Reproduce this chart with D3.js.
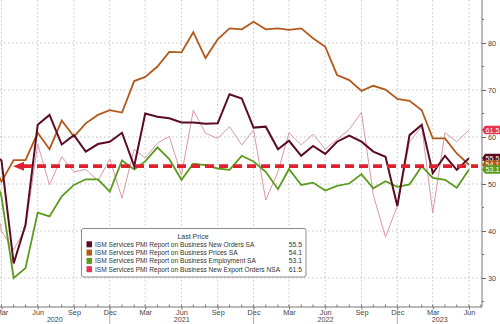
<!DOCTYPE html>
<html><head><meta charset="utf-8">
<script src="https://cdn.jsdelivr.net/npm/d3@7/dist/d3.min.js"></script>
<style>html,body{margin:0;padding:0;background:#fff;}svg{display:block;font-family:"Liberation Sans",Arial,sans-serif;}</style>
</head><body><svg id="c" width="500" height="324"></svg>
<script>
// months Feb 2020 .. Jun 2023
const startMonth = [2020, 1];
const newOrders = [57,55,33.1,41.3,62.6,64.7,58.4,60.4,56.9,58.5,59,60.9,53.8,65,64.3,64,63.1,63.1,62.8,62.9,69.1,68.2,62,62.2,57.4,59.2,56,58.1,56.4,59,60.3,59,56.9,55.8,45.3,60.4,62.6,52.3,56,53,55.5];
const prices = [55.5,50.5,55.1,55.1,60.9,57.4,63.5,60.1,62.9,64.7,65.7,65.2,71.9,72.8,75,78.1,78,82.3,76.8,80.8,83.1,82.9,84.5,82.9,83.1,82.8,83.1,81,79.2,73.2,72.1,69.8,70.9,70.1,68.1,67.7,65.7,59.7,59.7,56.5,54.1];
const employment = [55,47.3,30,32.1,43.9,43.1,47.4,49.8,51,51,48.4,55,53.1,54.8,57.8,55.3,50.9,54.3,54,53.3,53,56,54.8,52.6,48.9,53.2,49.8,50.3,48.6,49.6,50.1,52.1,49.1,50.6,49.4,49.9,53.8,51.3,50.9,49.2,53.1];
const exportOrders = [52,40,36,40.6,58.5,49.8,55.8,52.6,53.1,50.7,55.3,47,57.4,55.5,58.7,60.1,51.9,65.7,60.8,59.7,62.2,58.3,61.5,46.6,52.6,60.9,58.3,60.6,57.4,59.5,61.6,65.2,47.7,38.7,45.3,59,62.2,43.9,60.9,59,61.5];
const seriesNames = ["ISM Services PMI Report on Business New Orders SA","ISM Services PMI Report on Business Prices SA","ISM Services PMI Report on Business Employment SA","ISM Services PMI Report on Business New Export Orders NSA"];
const lastValues = ["55.5","54.1","53.1","61.5"];
const yTicks = [30,40,50,60,70,80];
const monthLabels = ["Mar","Jun","Sep","Dec"];
const years = [2020,2021,2022,2023];
const refLevel = 53.8;

const colors = ["#5a0c22","#b3591c","#5a9a1c","#e2344e"];
const lineColors = ["#5a0c22","#b3591c","#5a9a1c","#d99aa5"];
const widths = [2,1.8,1.8,1];

const svg = d3.select("#c");
const L=0,R=482,T=0,B=307;
const x = d3.scaleTime().domain([new Date(2020,5,1), new Date(2023,5,1)]).range([37.7,469]);
const y = d3.scaleLinear().domain([30,80]).range([278,43]);
const dates = newOrders.map((_,i)=>new Date(startMonth[0], startMonth[1]+i, 1));

// grid
const qMonths = d3.timeMonths(new Date(2020,2,1), new Date(2023,5,2)).filter(d=>d.getMonth()%3===2);
svg.append("g").selectAll("line").data(qMonths).join("line")
  .attr("x1",d=>x(d)).attr("x2",d=>x(d)).attr("y1",T).attr("y2",B)
  .attr("stroke","#b8b8b8").attr("stroke-width",0.8).attr("stroke-dasharray","1.5,2.5");
svg.append("g").selectAll("line").data(yTicks).join("line")
  .attr("x1",L).attr("x2",R).attr("y1",d=>y(d)).attr("y2",d=>y(d))
  .attr("stroke","#b8b8b8").attr("stroke-width",0.8).attr("stroke-dasharray","1.5,2.5");

// clip
svg.append("clipPath").attr("id","clp").append("rect").attr("x",L).attr("y",T).attr("width",R-L).attr("height",B-T);

const allSeries = [newOrders, prices, employment, exportOrders];
const line = d3.line().x((d,i)=>x(dates[i])).y(d=>y(d));
const g = svg.append("g").attr("clip-path","url(#clp)");
[3,2,1,0].forEach(k=>{
  g.append("path").datum(allSeries[k]).attr("d",line).attr("fill","none")
   .attr("stroke",lineColors[k]).attr("stroke-width",widths[k]).attr("stroke-linejoin","miter");
});

// red dashed arrow
const ry = y(refLevel);
g.append("line").attr("x1",23).attr("x2",478).attr("y1",ry).attr("y2",ry)
  .attr("stroke","#e0202e").attr("stroke-width",3.6).attr("stroke-dasharray","9,5");
g.append("path").attr("d",`M13,${ry}L24,${ry-4.5}L24,${ry+4.5}Z`).attr("fill","#e0202e");

// axes lines
svg.append("line").attr("x1",R).attr("x2",R).attr("y1",T).attr("y2",B).attr("stroke","#777").attr("stroke-width",1);
svg.append("line").attr("x1",L).attr("x2",R).attr("y1",B).attr("y2",B).attr("stroke","#777").attr("stroke-width",1);

// right axis
const yAxis = d3.axisRight(y).tickValues(yTicks).tickSize(4).tickPadding(2).tickFormat(d3.format("d"));
const ya = svg.append("g").attr("transform",`translate(${R},0)`).call(yAxis);
ya.select(".domain").remove();
ya.selectAll("line").attr("stroke","#666");
ya.selectAll("text").attr("fill","#444").attr("font-size",7.3).attr("font-family","Liberation Sans, Arial, sans-serif");
const minor = d3.range(25,90,5).filter(v=>v%10!==0 && y(v)>2 && y(v)<B);
svg.append("g").selectAll("line").data(minor).join("line")
  .attr("x1",R).attr("x2",R+2).attr("y1",d=>y(d)).attr("y2",d=>y(d)).attr("stroke","#777");

// bottom axis
const allMonths = d3.timeMonths(new Date(2020,2,1), new Date(2023,6,2));
svg.append("g").selectAll("line").data(allMonths).join("line")
  .attr("x1",d=>x(d)).attr("x2",d=>x(d)).attr("y1",B-2.5).attr("y2",B).attr("stroke","#777");
const xAxis = d3.axisBottom(x).tickValues(qMonths).tickSize(2.5).tickPadding(0.5)
  .tickFormat(d=>monthLabels[Math.floor(d.getMonth()/3)]);
const xa = svg.append("g").attr("transform",`translate(0,${B})`).call(xAxis);
xa.select(".domain").remove();
xa.selectAll("line").attr("stroke","#777");
xa.selectAll("text").attr("fill","#444").attr("font-size",7.3).attr("font-family","Liberation Sans, Arial, sans-serif");

// year separators and labels
const seps = [L, x(new Date(2020,11,1)), x(new Date(2021,11,1)), x(new Date(2022,11,1)), R];
svg.append("g").selectAll("line").data(seps.slice(1,4)).join("line")
  .attr("x1",d=>d).attr("x2",d=>d).attr("y1",B).attr("y2",324).attr("stroke","#999").attr("stroke-width",0.8);
svg.append("g").selectAll("text").data(years).join("text")
  .attr("x",(d,i)=>(seps[i]+seps[i+1])/2).attr("y",322.3).attr("text-anchor","middle")
  .attr("font-size",7.2).attr("fill","#444").text(d=>d);

// value tags
const tagOrder = [3,0,1,2];
tagOrder.forEach(k=>{
  const ty = y(+lastValues[k]);
  const tg = svg.append("g");
  tg.append("path").attr("d",`M${R},${ty}L${R+3},${ty-4.3}L500,${ty-4.3}L500,${ty+4.3}L${R+3},${ty+4.3}Z`).attr("fill",colors[k]);
  tg.append("text").attr("x",R+3.5).attr("y",ty+2.7).attr("font-size",7.2).attr("fill","#fff").text(lastValues[k]);
});

// legend
const lg = svg.append("g");
lg.append("rect").attr("x",81.5).attr("y",228.5).attr("width",224.5).attr("height",48.5).attr("rx",2)
  .attr("fill","#fff").attr("stroke","#8a8a8a").attr("stroke-width",1);
lg.append("text").attr("x",193).attr("y",239.3).attr("text-anchor","middle").attr("font-size",7).attr("fill","#333").text("Last Price");
const rowY = [244.3,252.6,260.9,269.2];
seriesNames.forEach((n,k)=>{
  lg.append("rect").attr("x",86.5).attr("y",rowY[k]-3).attr("width",5.5).attr("height",6).attr("fill",colors[k]);
  lg.append("text").attr("x",95).attr("y",rowY[k]+2.5).attr("font-size",6.6).attr("fill","#333").text(n);
  lg.append("text").attr("x",302).attr("y",rowY[k]+2.5).attr("text-anchor","end").attr("font-size",6.8).attr("fill","#333").text(lastValues[k]);
});
</script></body></html>
